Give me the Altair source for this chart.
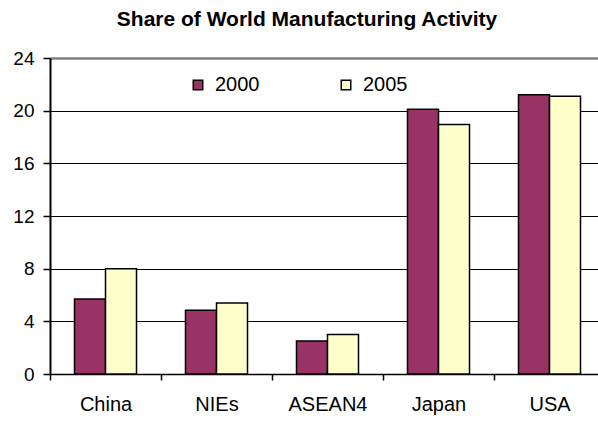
import altair as alt
import pandas as pd

categories = ["China", "NIEs", "ASEAN4", "Japan", "USA"]
v2000 = [5.7, 4.85, 2.5, 20.1, 21.2]
v2005 = [8.0, 5.4, 3.0, 18.95, 21.1]
years = ["2000", "2005"]
y_ticks = [0, 4, 8, 12, 16, 20, 24]

rows = []
for c, a, b in zip(categories, v2000, v2005):
    rows.append({"region": c, "year": years[0], "share": a})
    rows.append({"region": c, "year": years[1], "share": b})
df = pd.DataFrame(rows)

FONT = "Liberation Sans"

chart = alt.Chart(df).mark_bar(stroke="black", strokeWidth=1.5).encode(
    x=alt.X(
        "region:N",
        sort=categories,
        title=None,
        scale=alt.Scale(range=[0, 555], paddingInner=0, paddingOuter=0),
        axis=alt.Axis(
            tickBand="extent",
            tickExtra=False,
            labelAngle=0,
            labelFont=FONT,
            labelFontSize=20,
            labelColor="black",
            labelPadding=14,
            tickSize=6,
            tickColor="black",
            tickWidth=1.5,
            domainColor="black",
            domainWidth=1.5,
            grid=False,
        ),
    ),
    xOffset=alt.XOffset(
        "year:N",
        scale=alt.Scale(paddingInner=0, paddingOuter=0.79),
    ),
    y=alt.Y(
        "share:Q",
        title=None,
        scale=alt.Scale(domain=[0, 24], nice=False),
        axis=alt.Axis(
            values=y_ticks,
            labelFont=FONT,
            labelFontSize=19,
            labelColor="black",
            labelPadding=9,
            tickSize=7,
            tickColor="black",
            tickWidth=1.5,
            domainColor="black",
            domainWidth=2,
            grid=True,
            gridColor={"condition": {"test": "datum.value === 24", "value": "#808080"}, "value": "black"},
            gridWidth={"condition": {"test": "datum.value === 24", "value": 2.5}, "value": 1.2},
            gridOpacity=1,
        ),
    ),
    color=alt.Color(
        "year:N",
        scale=alt.Scale(domain=years, range=["#993366", "#FFFFCC"]),
        legend=alt.Legend(
            title=None,
            orient="none",
            legendX=138,
            legendY=17,
            direction="horizontal",
            symbolType="square",
            symbolSize=90,
            symbolStrokeColor="black",
            symbolStrokeWidth=1.5,
            symbolOpacity=1,
            labelFont=FONT,
            labelFontSize=20,
            labelColor="black",
            labelOffset=7,
            columnPadding=76,
        ),
    ),
).properties(
    width=548,
    height=316,
    title=alt.TitleParams(
        "Share of World Manufacturing Activity",
        font=FONT,
        fontSize=21,
        fontWeight="bold",
        color="black",
        anchor="middle",
        baseline="alphabetic",
        offset=2,
        dx=-17,
    ),
    autosize=alt.AutoSizeParams(type="none"),
    padding={"left": 50, "top": 58, "right": 0, "bottom": 52},
).configure_view(stroke=None)

chart.save("out.html", embed_options={"renderer": "svg", "actions": False})
